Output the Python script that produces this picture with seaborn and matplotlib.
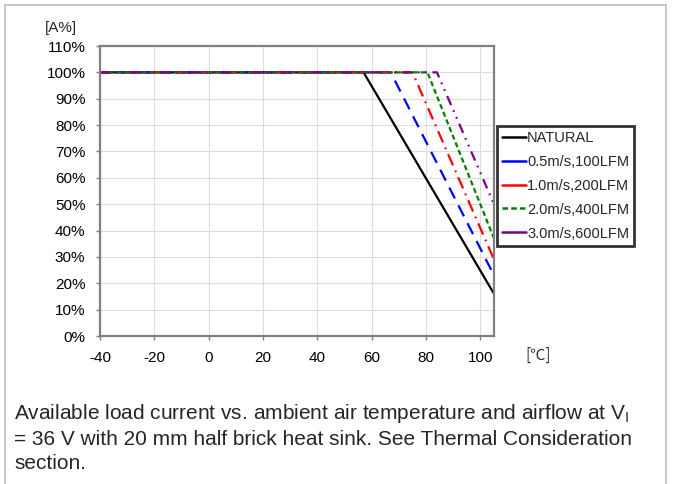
import matplotlib
matplotlib.use("Agg")
import matplotlib.pyplot as plt
from matplotlib.patches import Rectangle
import seaborn as sns
import pandas as pd

# Derating curves: ambient temperature [°C] vs. available load current [%]
series_names = ["NATURAL", "0.5m/s,100LFM", "1.0m/s,200LFM", "2.0m/s,400LFM", "3.0m/s,600LFM"]
natural_t = [-40, 57, 105]
natural_i = [100, 100, 16]
lfm100_t = [-40, 67, 105]
lfm100_i = [100, 100, 23]
lfm200_t = [-40, 75, 105]
lfm200_i = [100, 100, 29]
lfm400_t = [-40, 80.5, 105]
lfm400_i = [100, 100, 37]
lfm600_t = [-40, 84, 105]
lfm600_i = [100, 100, 50]

x_ticks = [-40, -20, 0, 20, 40, 60, 80, 100]
y_ticks = [0, 10, 20, 30, 40, 50, 60, 70, 80, 90, 100, 110]

temps = [natural_t, lfm100_t, lfm200_t, lfm400_t, lfm600_t]
currents = [natural_i, lfm100_i, lfm200_i, lfm400_i, lfm600_i]
rows = []
for name, ts, cs in zip(series_names, temps, currents):
    for t, c in zip(ts, cs):
        rows.append({"Temperature": t, "Current": c, "Airflow": name})
df = pd.DataFrame(rows)

colors = {
    "NATURAL": "#000000",
    "0.5m/s,100LFM": "#0000ff",
    "1.0m/s,200LFM": "#ff0000",
    "2.0m/s,400LFM": "#008000",
    "3.0m/s,600LFM": "#800080",
}
dashes = {
    "NATURAL": "",
    "0.5m/s,100LFM": (5.5, 3.5),
    "1.0m/s,200LFM": (5.5, 2.5, 0.8, 2.5),
    "2.0m/s,400LFM": (2.3, 1.4),
    "3.0m/s,600LFM": (4.5, 2.5, 0.8, 2.5, 0.8, 2.5),
}

sns.set_style("white")
plt.rcParams["font.family"] = ["Liberation Sans", "DejaVu Sans"]
plt.rcParams["axes.unicode_minus"] = False

fig = plt.figure(figsize=(6.76, 4.84), dpi=100)
ax = fig.add_axes([100 / 676, 1 - 336 / 484, 394 / 676, 290 / 484])

sns.lineplot(
    data=df, x="Temperature", y="Current", hue="Airflow", style="Airflow",
    hue_order=series_names, style_order=series_names,
    palette=colors, dashes=dashes, linewidth=1.6, ax=ax, legend=True,
)

ax.set_xlim(-40, 105)
ax.set_ylim(0, 110)
ax.set_xticks(x_ticks)
ax.set_yticks(y_ticks)
ax.set_yticklabels([f"{v}%" for v in y_ticks])
ax.grid(True, color="#dddddd", linewidth=0.8)
ax.set_axisbelow(True)
for s in ax.spines.values():
    s.set_color("#808080")
    s.set_linewidth(1.6)
ax.tick_params(axis="both", labelsize=11, colors="#000000", length=3,
               direction="out", width=1, color="#808080", left=True, bottom=True, pad=7.5)
ax.set_xlabel("")
ax.set_ylabel("")

leg = ax.legend(
    loc="upper left", bbox_to_anchor=(1.008, 0.725), fontsize=10.5,
    handlelength=1.6, handletextpad=0.1, borderpad=0.35, labelspacing=0.68,
    frameon=True, fancybox=False, borderaxespad=0,
)
leg.get_frame().set_edgecolor("black")
leg.get_frame().set_linewidth(2)
for line, name in zip(leg.get_lines(), series_names):
    line.set_linewidth(1.8)
    if name == "2.0m/s,400LFM":
        line.set_dashes((2.2, 1.3))
    else:
        line.set_linestyle("-")

fig.text(45 / 676, 1 - 28 / 484, "[A%]", fontsize=11, ha="left", va="center")
fig.text(525 / 676, 1 - 355 / 484, "[℃]", fontsize=11, ha="left", va="center",
         family=["Noto Sans CJK SC", "DejaVu Sans"], color="#333333")

caption = ("Available load current vs. ambient air temperature and airflow at V$_\\mathregular{I}$\n"
           "= 36 V with 20 mm half brick heat sink. See Thermal Consideration\n"
           "section.")
fig.text(14 / 676, 1 - 402 / 484, caption, fontsize=15, ha="left", va="top",
         linespacing=1.32)

fig.patches.append(Rectangle((5 / 676, -0.05), 661 / 676, 1 - 5 / 484 + 0.05,
                             transform=fig.transFigure, fill=False,
                             edgecolor="#c8c8c8", linewidth=1.5))

fig.savefig("out.png", dpi=100)
